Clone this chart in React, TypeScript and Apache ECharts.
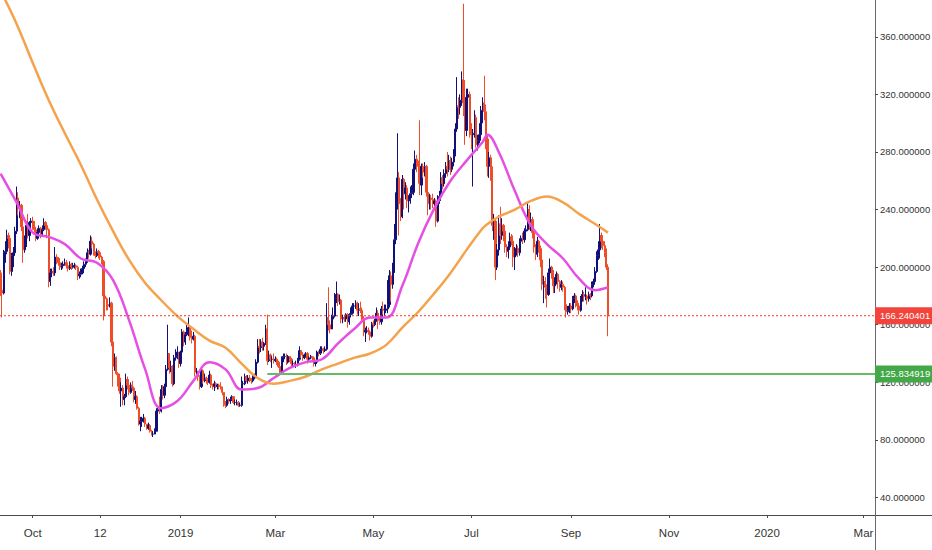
import React, { useEffect, useRef } from "react";
import * as echarts from "echarts";

// ---------- data ----------
const START = [2018, 8, 11]; // first candle: 11 Sep 2018, one candle per day
const FIRST_OPEN = 196;

const closes = [
  // Sep 2018 (11-30)
  184, 182, 210, 211, 222, 220, 197, 208, 210, 225, 248, 241, 243, 228, 212, 216, 229, 222, 231, 232,
  // Oct
  230, 226, 220, 224, 227, 223, 226, 231, 229, 226, 190, 196, 197, 196, 207, 206, 203, 200, 201, 202, 203, 201, 199, 202, 200, 201, 201, 200, 194, 195, 196,
  // Nov
  199, 202, 204, 210, 209, 218, 216, 210, 208, 211, 210, 207, 204, 180, 178, 174, 173, 175, 148, 131, 137, 126, 123, 114, 116, 108, 110, 122, 118, 113,
  // Dec
  118, 116, 108, 110, 102, 91, 93, 93, 95, 91, 88, 90, 86, 84, 84, 86, 100, 101, 100, 115, 111, 117, 129, 140, 130, 131, 119, 137, 138, 141, 133,
  // Jan 2019
  141, 155, 148, 153, 155, 158, 151, 150, 152, 127, 127, 124, 117, 128, 121, 123, 122, 120, 125, 118, 117, 119, 117, 118, 117, 116, 113, 105, 104, 108, 107,
  // Feb
  108, 110, 106, 106, 106, 104, 104, 119, 119, 124, 121, 123, 122, 121, 123, 124, 134, 145, 144, 148, 145, 147, 157, 135, 139, 136, 136, 135,
  // Mar
  136, 134, 131, 126, 137, 138, 138, 134, 138, 136, 133, 133, 132, 132, 136, 142, 139, 137, 139, 140, 136, 137, 138, 137, 133, 134, 141, 140, 143, 143, 142,
  // Apr
  143, 165, 160, 157, 164, 166, 178, 181, 176, 177, 164, 165, 164, 167, 162, 167, 168, 173, 173, 175, 170, 171, 170, 164, 155, 156, 156, 155, 152, 161,
  // May
  160, 163, 168, 163, 162, 171, 170, 170, 171, 174, 194, 188, 198, 219, 248, 262, 244, 235, 261, 251, 255, 246, 247, 251, 252, 268, 275, 272, 270, 257, 270,
  // Jun
  266, 270, 252, 244, 248, 247, 244, 246, 232, 247, 249, 262, 258, 265, 270, 268, 274, 268, 273, 278, 296, 312, 311, 316, 330, 314, 295, 318, 320, 294,
  // Jul
  292, 293, 304, 285, 288, 292, 309, 314, 308, 289, 270, 276, 268, 229, 232, 200, 212, 230, 222, 229, 225, 214, 211, 214, 221, 218, 207, 211, 213, 210, 218,
  // Aug
  220, 219, 225, 226, 240, 230, 233, 224, 214, 209, 218, 213, 205, 188, 190, 186, 181, 196, 200, 196, 187, 191, 195, 190, 186, 188, 186, 174, 169, 170, 173,
  // Sep 2019 (1-24)
  171, 178, 180, 175, 173, 170, 178, 181, 180, 180, 178, 181, 180, 188, 190, 197, 208, 212, 222, 218, 215, 210, 200, 166.240401,
];

const highs = [
  198, 186, 212, 218, 226, 224, 221, 210, 214, 228, 256, 252, 246, 244, 230, 222, 232, 237, 232, 234,
  235, 232, 228, 227, 229, 228, 229, 234, 232, 230, 227, 199, 199, 200, 214, 209, 207, 205, 203, 204, 206, 205, 203, 204, 203, 203, 203, 202, 201, 197, 199,
  201, 204, 206, 213, 212, 222, 221, 217, 211, 213, 212, 211, 208, 205, 182, 179, 176, 179, 176, 150, 140, 138, 127, 126, 120, 118, 112, 126, 124, 120,
  120, 121, 117, 114, 111, 103, 96, 96, 98, 96, 91, 92, 91, 87, 86, 88, 102, 103, 110, 118, 118, 119, 132, 160, 140, 135, 132, 139, 143, 145, 141,
  142, 157, 156, 155, 160, 165, 160, 156, 155, 153, 130, 128, 125, 130, 129, 126, 124, 123, 128, 126, 119, 121, 120, 119, 119, 120, 117, 113, 107, 110, 109,
  110, 111, 110, 108, 108, 107, 106, 124, 121, 126, 125, 125, 125, 123, 125, 126, 136, 150, 150, 150, 151, 148, 160, 167, 142, 140, 138, 140,
  138, 137, 135, 132, 138, 140, 140, 140, 139, 138, 137, 135, 134, 135, 137, 145, 142, 141, 140, 141, 141, 138, 139, 138, 138, 135, 142, 142, 145, 145, 144,
  145, 175, 186, 163, 167, 172, 182, 190, 182, 181, 178, 167, 167, 168, 168, 168, 172, 175, 175, 177, 176, 175, 176, 172, 166, 158, 159, 158, 156, 162,
  163, 164, 172, 170, 165, 173, 176, 174, 174, 191, 198, 197, 203, 230, 252, 293, 266, 248, 264, 262, 259, 257, 250, 256, 257, 272, 281, 278, 274, 302, 272,
  272, 273, 271, 253, 251, 250, 251, 248, 247, 250, 253, 266, 264, 268, 273, 280, 278, 277, 276, 282, 300, 332, 318, 320, 336, 383, 330, 324, 324, 322,
  300, 296, 309, 306, 292, 300, 312, 318, 333, 313, 292, 280, 278, 270, 237, 234, 216, 236, 242, 234, 230, 227, 216, 218, 224, 223, 222, 214, 216, 215, 220,
  222, 224, 227, 229, 245, 243, 238, 235, 226, 216, 221, 219, 215, 207, 194, 193, 188, 199, 206, 201, 198, 193, 197, 196, 191, 191, 190, 187, 175, 173, 175,
  175, 180, 182, 181, 177, 175, 180, 184, 183, 186, 181, 183, 182, 190, 192, 200, 211, 218, 230, 224, 219, 218, 213, 202,
];

const lows = [
  180, 165, 181, 203, 209, 213, 195, 194, 200, 208, 223, 236, 234, 225, 203, 210, 214, 220, 218, 226,
  226, 224, 218, 219, 221, 220, 221, 225, 226, 220, 186, 187, 193, 194, 194, 202, 201, 198, 198, 199, 201, 199, 197, 198, 198, 199, 199, 198, 191, 192, 193,
  195, 198, 200, 203, 206, 208, 213, 208, 206, 207, 206, 205, 202, 163, 166, 170, 170, 172, 145, 117, 128, 125, 117, 112, 103, 104, 104, 109, 115, 111,
  112, 114, 106, 105, 101, 90, 86, 89, 92, 89, 87, 87, 85, 83, 82, 84, 86, 95, 98, 99, 108, 109, 116, 128, 126, 127, 117, 118, 135, 136, 130,
  131, 139, 145, 146, 152, 152, 149, 147, 149, 124, 123, 121, 115, 116, 119, 120, 119, 118, 119, 116, 115, 114, 116, 115, 115, 115, 111, 103, 102, 103, 105,
  105, 107, 105, 104, 104, 103, 103, 103, 117, 118, 120, 119, 120, 119, 120, 122, 123, 133, 140, 141, 142, 142, 146, 132, 134, 134, 130, 133,
  134, 132, 130, 125, 126, 134, 136, 132, 133, 134, 131, 130, 131, 130, 131, 135, 137, 135, 136, 137, 133, 135, 136, 135, 131, 131, 133, 138, 139, 140, 140,
  141, 142, 156, 154, 157, 162, 165, 175, 173, 174, 161, 161, 162, 162, 158, 160, 165, 167, 169, 171, 167, 166, 168, 162, 152, 148, 154, 153, 149, 151,
  158, 159, 162, 157, 160, 160, 167, 166, 168, 168, 172, 176, 185, 196, 216, 240, 222, 232, 234, 240, 247, 241, 238, 244, 248, 250, 265, 266, 258, 250, 250,
  262, 263, 249, 236, 240, 240, 241, 240, 228, 231, 244, 246, 254, 256, 262, 263, 266, 264, 266, 270, 277, 294, 303, 306, 312, 305, 285, 291, 305, 290,
  282, 256, 290, 283, 281, 286, 290, 300, 302, 282, 263, 262, 260, 225, 219, 191, 198, 208, 216, 219, 218, 210, 207, 206, 212, 215, 200, 198, 208, 207, 208,
  214, 216, 217, 220, 225, 226, 225, 220, 210, 205, 207, 210, 200, 184, 175, 178, 172, 180, 194, 192, 182, 182, 188, 185, 183, 184, 183, 170, 165, 167, 168,
  168, 170, 175, 172, 170, 167, 169, 176, 176, 177, 174, 176, 177, 179, 186, 189, 196, 205, 206, 213, 212, 207, 198, 152,
];

// moving-average lines, read at these day offsets from START
const maOffsets = [0, 10, 20, 30, 40, 50, 60, 70, 80, 90, 100, 110, 120, 130, 140, 150, 160, 170, 180, 190, 200, 210, 220, 230, 240, 250, 260, 270, 280, 290, 300, 303, 310, 320, 330, 340, 350, 360, 370, 378];
const fastMa = [265, 245, 224, 221, 216, 206, 203, 191, 163, 129, 102, 107, 121, 134, 129, 115, 116, 123, 130, 134, 136, 147, 157, 165, 165, 187, 217, 241, 260, 274, 287, 292, 280, 253, 229, 216, 206, 192, 184, 186];
const slowMa = [392, 369, 342, 316, 293, 271, 247, 225, 205, 189, 177, 166, 157, 149, 144, 133, 123, 119, 121, 124, 129, 133, 137, 140, 146, 158, 169, 182, 196, 212, 227, 230, 235, 240, 246, 249, 245, 237, 230, 224];

const lastPrice = 166.240401;
const supportLevel = 125.834919;
const supportStart = [2019, 1, 24];

const xTickDates = [[2018, 9, 1], [2018, 10, 12], [2019, 0, 1], [2019, 2, 1], [2019, 4, 1], [2019, 6, 1], [2019, 8, 1], [2019, 10, 1], [2020, 0, 1], [2020, 2, 1]];
const xTickLabels = ["Oct", "12", "2019", "Mar", "May", "Jul", "Sep", "Nov", "2020", "Mar"];
const yTickValues = [40, 80, 120, 160, 200, 240, 280, 320, 360];

// visible range in days from START
const xRange = [-0.35, 544.15];
const yRange = [27.8, 385.6];

// ---------- styling ----------
const W = 932;
const H = 550;
const GRID_RIGHT = 57;
const GRID_BOTTOM = 35;
const UP = "#10107a";
const DOWN = "#ef4d27";
const MAGENTA = "#e650e2";
const ORANGE = "#f5a24c";
const PRICE_RED = "#f0362b";
const SUPPORT_GREEN = "#66bb66";
const AXIS = "#4a4a4a";
const TEXT = "#333333";
const FONT = '"Liberation Sans", Arial, sans-serif';

const DAY_MS = 86400000;
const startMs = new Date(START[0], START[1], START[2]).getTime();
const dayIndex = (p: number[]) => Math.round((new Date(p[0], p[1], p[2]).getTime() - startMs) / DAY_MS);

export default function App() {
  const ref = useRef<HTMLDivElement>(null);

  useEffect(() => {
    if (!ref.current) return;
    const chart = echarts.init(ref.current, null, { renderer: "svg" });

    const candles = closes.map((c, i) => [i, i === 0 ? FIRST_OPEN : closes[i - 1], c, lows[i], highs[i]]);
    const xTicks = xTickDates.map((d) => dayIndex(d));

    const xLabelFor = (v: number) => {
      let best = 0;
      let bd = Infinity;
      xTicks.forEach((t, k) => {
        const d = Math.abs(t - v);
        if (d < bd) { bd = d; best = k; }
      });
      return xTickLabels[best];
    };

    const tag = (bg: string) => ({
      show: true,
      distance: 0,
      color: "#ffffff",
      backgroundColor: bg,
      padding: [4, 3, 3, 5],
      fontSize: 9.5,
      fontFamily: FONT,
    });

    const axisX = W - GRID_RIGHT + 0.5;
    const axisY = H - GRID_BOTTOM + 0.5;

    const levelLine = (from: number, value: number, color: string, tagBg: string, dash: any, width: number) => ({
      type: "line",
      data: [[from, value], [xRange[1], value]],
      silent: true,
      symbol: "none",
      showSymbol: false,
      clip: false,
      z: 4,
      itemStyle: { color },
      lineStyle: { color, type: dash, width },
      endLabel: { ...tag(tagBg), formatter: value.toFixed(6) },
    });

    chart.setOption({
      animation: false,
      backgroundColor: "#ffffff",
      grid: { left: 0, right: GRID_RIGHT, top: 0, bottom: GRID_BOTTOM, outerBoundsMode: "none", containLabel: false },
      xAxis: {
        type: "value",
        min: xRange[0],
        max: xRange[1],
        axisLine: { show: true, onZero: false, lineStyle: { color: AXIS, width: 1 } },
        axisTick: { show: true, customValues: xTicks, length: 3, lineStyle: { color: AXIS } },
        axisLabel: {
          customValues: xTicks,
          formatter: (v: number) => xLabelFor(v),
          color: TEXT,
          fontSize: 11.5,
          fontFamily: FONT,
          margin: 12,
          hideOverlap: false,
        },
        splitLine: { show: false },
      },
      yAxis: {
        type: "value",
        position: "right",
        min: yRange[0],
        max: yRange[1],
        axisLine: { show: true, onZero: false, lineStyle: { color: "#6a6a6a", width: 1 } },
        axisTick: { show: true, customValues: yTickValues, length: 3, lineStyle: { color: AXIS } },
        axisLabel: {
          customValues: yTickValues,
          formatter: (v: number) => v.toFixed(6),
          color: TEXT,
          fontSize: 9.5,
          fontFamily: FONT,
          margin: 5,
        },
        splitLine: { show: false },
      },
      series: [
        {
          type: "candlestick",
          data: candles,
          encode: { x: 0, y: [1, 2, 3, 4] },
          barWidth: 1.7,
          silent: true,
          z: 2,
          itemStyle: { color: UP, color0: DOWN, borderColor: UP, borderColor0: DOWN, borderWidth: 1 },
        },
        {
          type: "line",
          data: maOffsets.map((o, k) => [o, fastMa[k]]),
          smooth: 0.4,
          showSymbol: false,
          symbol: "none",
          silent: true,
          z: 3,
          lineStyle: { color: MAGENTA, width: 2.5 },
        },
        {
          type: "line",
          data: maOffsets.map((o, k) => [o, slowMa[k]]),
          smooth: 0.4,
          showSymbol: false,
          symbol: "none",
          silent: true,
          z: 3,
          lineStyle: { color: ORANGE, width: 2.5 },
        },
        levelLine(dayIndex(supportStart), supportLevel, SUPPORT_GREEN, "#43a847", "solid", 2),
        levelLine(xRange[0], lastPrice, PRICE_RED, "#f2443a", [2, 2], 1),
      ],
      graphic: [
        { type: "line", silent: true, shape: { x1: axisX, y1: axisY, x2: axisX, y2: H }, style: { stroke: "#6a6a6a", lineWidth: 1 } },
        { type: "line", silent: true, shape: { x1: axisX, y1: axisY, x2: W, y2: axisY }, style: { stroke: AXIS, lineWidth: 1 } },
      ],
    });

    return () => chart.dispose();
  }, []);

  return <div ref={ref} style={{ position: "absolute", left: 0, top: 0, width: W, height: H }} />;
}
